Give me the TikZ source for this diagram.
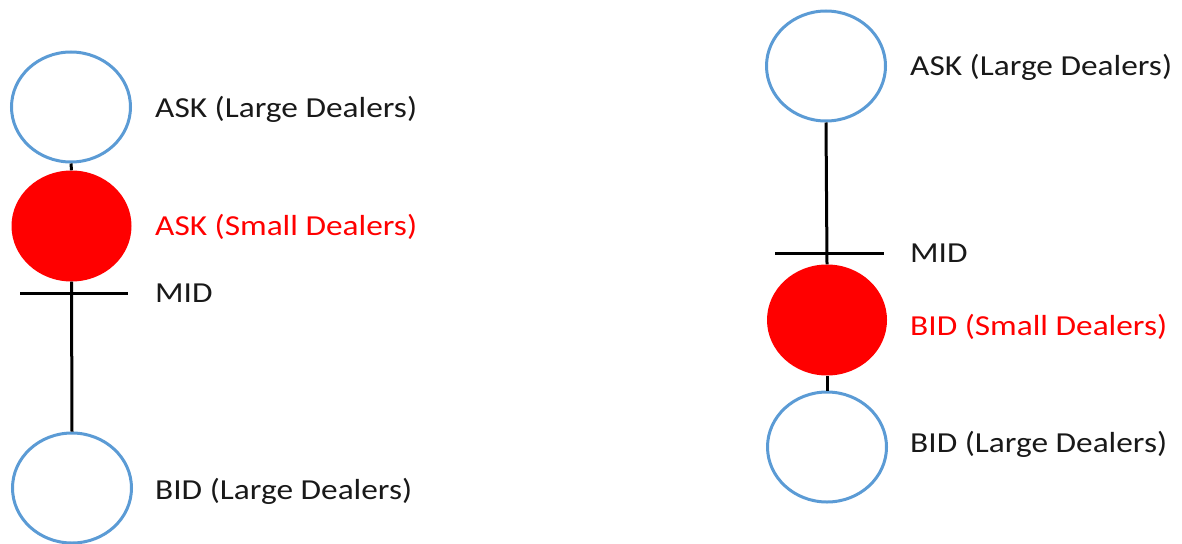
\documentclass[tikz,border=0pt]{standalone}
\usepackage{fontspec}
\setmainfont{Carlito}[FakeStretch=1.15]
\usetikzlibrary{shapes.geometric}
\definecolor{cblue}{RGB}{91,155,213}
\definecolor{cred}{RGB}{255,0,0}
\begin{document}
\begin{tikzpicture}[x=1pt,y=-1pt,
  large/.style={ellipse,draw=cblue,line width=3pt,fill=white,minimum width=119pt,minimum height=110pt,inner sep=0pt},
  small/.style={ellipse,fill=cred,draw=none,minimum width=120pt,minimum height=111pt,inner sep=0pt},
  conn/.style={draw=black,line width=3pt},
  lbl/.style={anchor=base west,inner sep=0pt,font=\fontsize{29}{34}\selectfont,text=black!90},
  lblred/.style={lbl,text=cred}]
\useasboundingbox (0,0) rectangle (1182,543);
% left diagram
\coordinate (lm1) at (20,293);
\coordinate (lm2) at (128,293);
\node[large] (la) at (71,107) {};
\node[small] (ls) at (71.5,226) {};
\node[large] (lb) at (72,488) {};
\draw[conn] (la.south) -- (ls.north);
\draw[conn] (ls.south) -- (lb.north);
\draw[conn] (lm1) -- (lm2);
\node[lbl] (tla) at (155,117) {ASK (Large Dealers)};
\node[lblred] (tls) at (155,235) {ASK (Small Dealers)};
\node[lbl] (tlm) at (155,302) {MID};
\node[lbl] (tlb) at (155,499) {BID (Large Dealers)};
% right diagram
\coordinate (rm1) at (775,253);
\coordinate (rm2) at (884,253);
\node[large] (ra) at (826,66) {};
\node[small] (rs) at (827,320) {};
\node[large] (rb) at (827,447) {};
\draw[conn] (ra.south) -- (rs.north);
\draw[conn] (rs.south) -- (rb.north);
\draw[conn] (rm1) -- (rm2);
\node[lbl] (tra) at (910,75) {ASK (Large Dealers)};
\node[lbl] (trm) at (910,262) {MID};
\node[lblred] (trs) at (910,335) {BID (Small Dealers)};
\node[lbl] (trb) at (910,452) {BID (Large Dealers)};
\end{tikzpicture}
\end{document}
